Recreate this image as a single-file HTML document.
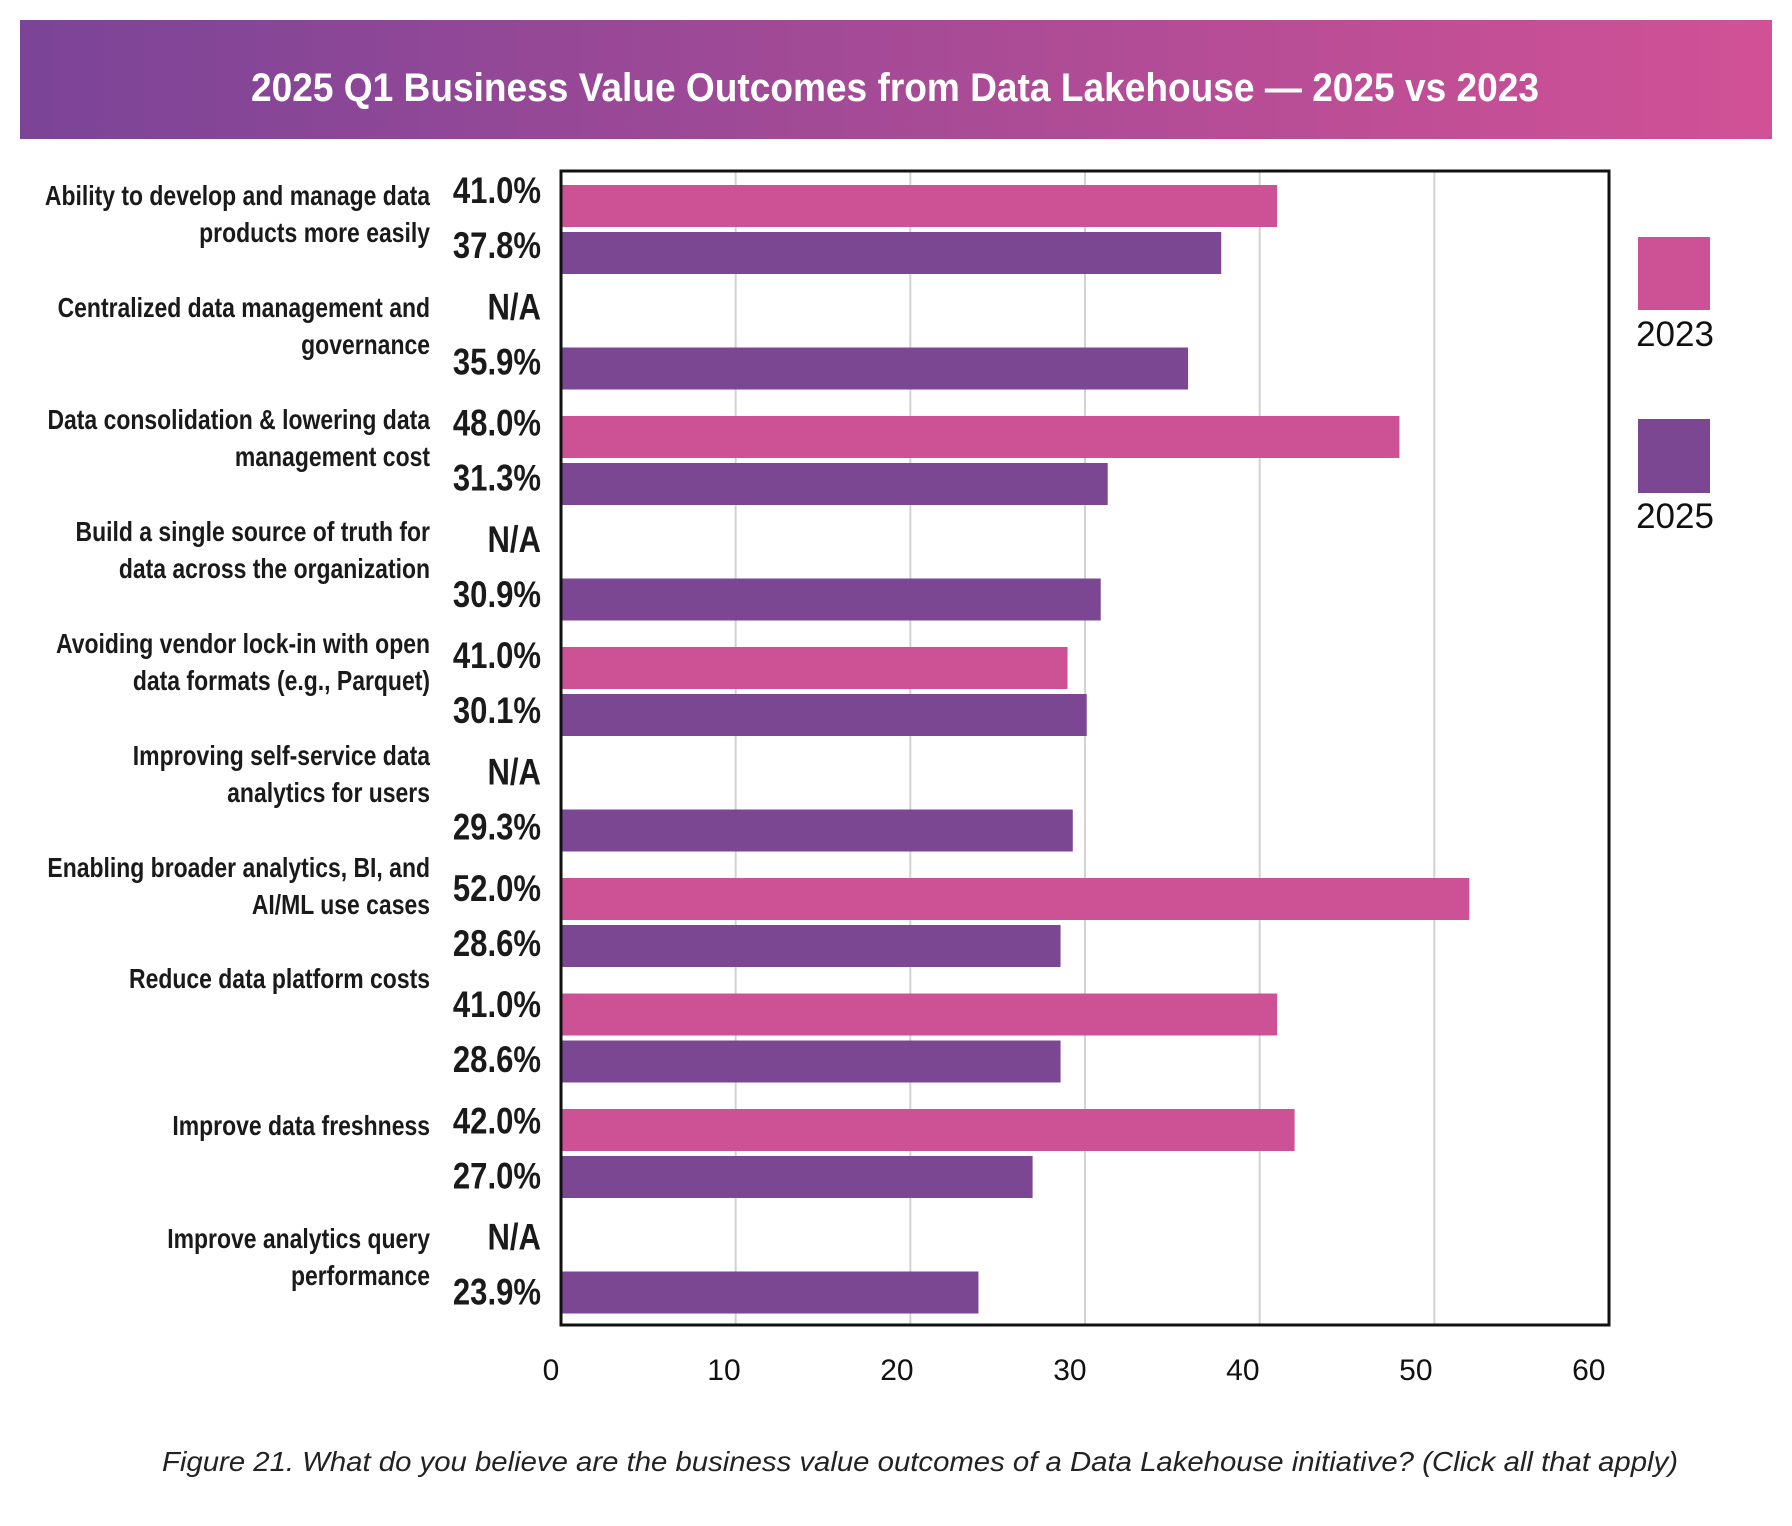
<!DOCTYPE html>
<html><head><meta charset="utf-8"><style>
html,body{margin:0;padding:0;background:#fff}
svg{display:block}
</style></head><body>
<svg id="chart" width="1792" height="1526" viewBox="0 0 1792 1526" xmlns="http://www.w3.org/2000/svg">
<defs><linearGradient id="tg" x1="0" x2="1" y1="0" y2="0"><stop offset="0" stop-color="#7b4497"/><stop offset="1" stop-color="#d15196"/></linearGradient></defs>
<rect x="20" y="20" width="1752" height="119" fill="url(#tg)"/>
<text x="251" y="101" textLength="1288" lengthAdjust="spacingAndGlyphs" font-family="Liberation Sans, sans-serif" font-weight="bold" font-size="40" fill="#fff">2025 Q1 Business Value Outcomes from Data Lakehouse  — 2025 vs 2023</text>
<g id="grid"></g>
<g id="bars"></g>
<g id="labels"></g>
<rect x="561" y="171" width="1048" height="1154" fill="none" stroke="#111" stroke-width="3"/>
<g id="ticks"></g>
<rect x="1638" y="237" width="72" height="73" fill="#cc5295"/>
<text x="1675" y="346" text-anchor="middle" font-family="Liberation Sans, sans-serif" font-size="35" fill="#111">2023</text>
<rect x="1638" y="419" width="72" height="74" fill="#7b4793"/>
<text x="1675" y="528" text-anchor="middle" font-family="Liberation Sans, sans-serif" font-size="35" fill="#111">2025</text>
<text x="162" y="1471" textLength="1516" lengthAdjust="spacingAndGlyphs" font-family="Liberation Sans, sans-serif" font-style="italic" font-size="28" fill="#222">Figure 21. What do you believe are the business value outcomes of a Data Lakehouse initiative? (Click all that apply)</text>
</svg>
<script>
const categories = [
 ["Ability to develop and manage data","products more easily"],
 ["Centralized data management and","governance"],
 ["Data consolidation & lowering data","management cost"],
 ["Build a single source of truth for","data across the organization"],
 ["Avoiding vendor lock-in with open","data formats (e.g., Parquet)"],
 ["Improving self-service data","analytics for users"],
 ["Enabling broader analytics, BI, and","AI/ML use cases"],
 ["Reduce data platform costs"],
 ["Improve data freshness"],
 ["Improve analytics query","performance"]
];
const values2023 = [41.0, null, 48.0, null, 29.0, null, 52.0, 41.0, 42.0, null];
const labels2023 = ["41.0%","N/A","48.0%","N/A","41.0%","N/A","52.0%","41.0%","42.0%","N/A"];
const values2025 = [37.8, 35.9, 31.3, 30.9, 30.1, 29.3, 28.6, 28.6, 27.0, 23.9];
const labels2025 = ["37.8%","35.9%","31.3%","30.9%","30.1%","29.3%","28.6%","28.6%","27.0%","23.9%"];
const tickValues = [0,10,20,30,40,50,60];

const NS="http://www.w3.org/2000/svg";
const X0=561, X1=1609, XMAX=60, TOP=170, BAND=115.5;
const catBase=[205,317,429,541,653,765,877,988,1135,1248];
function x(v){return X0+(X1-X0)*v/XMAX;}
function mk(tag,attrs,parent){const e=document.createElementNS(NS,tag);for(const k in attrs)e.setAttribute(k,attrs[k]);parent.appendChild(e);return e;}
const grid=document.getElementById('grid'),bars=document.getElementById('bars'),labels=document.getElementById('labels'),ticks=document.getElementById('ticks');
tickValues.forEach((t,i)=>{
  if(t>0&&t<XMAX){const l=mk('line',{x1:x(t),x2:x(t),y1:TOP,y2:1325,stroke:'#d2d2d2','stroke-width':2},grid);
  
  }
  const tx=mk('text',{x:x(t)-10-t*0.17,y:1380,'text-anchor':'middle','font-family':'Liberation Sans, sans-serif','font-size':30,fill:'#111'},ticks);
  tx.textContent=t;
  
  
});
function condText(parent,px,py,sx,size,weight,str,name){
  const g=mk('g',{transform:`translate(${px},${py}) scale(${sx},1)`},parent);
  const t=mk('text',{x:0,y:0,'text-anchor':'end','font-family':'Liberation Sans, sans-serif','font-weight':weight,'font-size':size,fill:'#1a1a1a'},g);
  t.textContent=str;
  
  
}
categories.forEach((c,i)=>{
  const top=TOP+i*BAND;
  if(values2023[i]!==null){const r=mk('rect',{x:X0,y:top+15,width:x(values2023[i])-X0,height:42,fill:'#cc5295'},bars);
  
  }
  const r2=mk('rect',{x:X0,y:top+62,width:x(values2025[i])-X0,height:42,fill:'#7b4793'},bars);
  
  
  const pb=203+i*116.3;
  condText(labels,541,pb,0.84,37,'bold',labels2023[i],'value-2023-'+i);
  condText(labels,541,pb+55,0.84,37,'bold',labels2025[i],'value-2025-'+i);
  c.forEach((line,j)=>condText(labels,430,catBase[i]+j*37,0.82,28,'bold',line,'category-label-'+i+'-'+j));
});
</script>
</body></html>
